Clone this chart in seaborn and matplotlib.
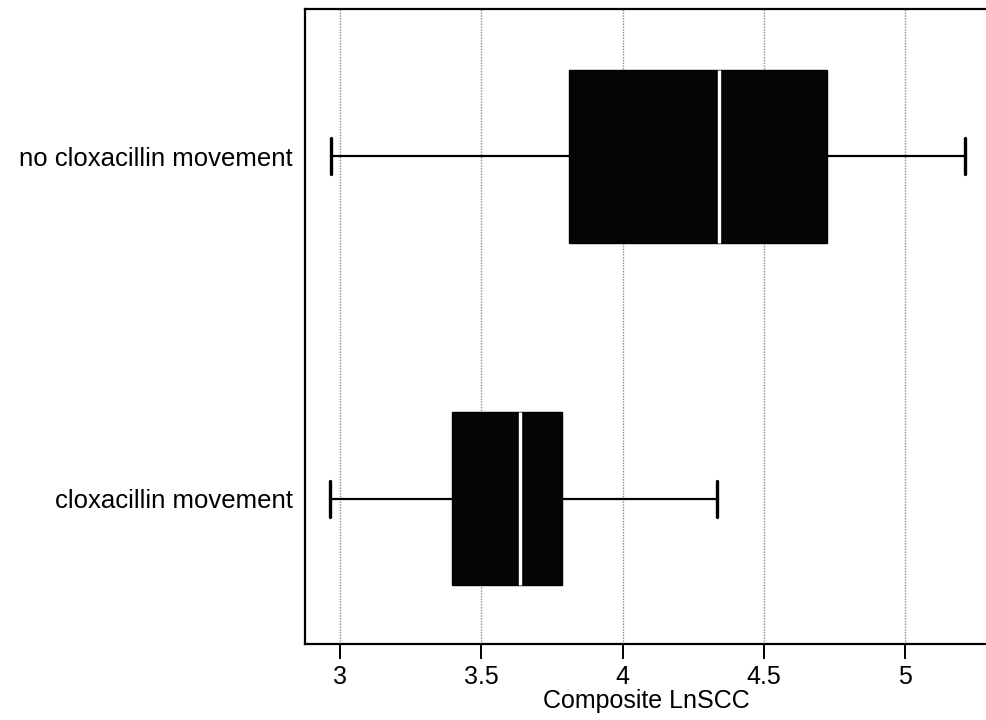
import numpy as np
import pandas as pd
import seaborn as sns
import matplotlib.pyplot as plt

# Five-number summaries (min, Q1, median, Q3, max) of composite LnSCC per group
groups = ["no cloxacillin movement", "cloxacillin movement"]
no_movement = [2.968, 3.810, 4.342, 4.725, 5.212]
movement = [2.965, 3.398, 3.637, 3.787, 4.336]

x_ticks = [3, 3.5, 4, 4.5, 5]
x_tick_labels = ["3", "3.5", "4", "4.5", "5"]
x_label = "Composite LnSCC"

df = pd.DataFrame({
    "group": [groups[0]] * len(no_movement) + [groups[1]] * len(movement),
    "lnscc": no_movement + movement,
})

sns.set_theme(style="white")
plt.rcParams["font.family"] = ["Liberation Sans", "DejaVu Sans"]
plt.rcParams["text.color"] = "black"
plt.rcParams["axes.labelcolor"] = "black"
plt.rcParams["xtick.color"] = "black"
plt.rcParams["ytick.color"] = "black"

fig = plt.figure(figsize=(9.87, 7.2), dpi=100)
ax = fig.add_axes([305 / 987, 1 - 644 / 720, 1 - 305 / 987, (644 - 9) / 720])

# dotted vertical grid behind the boxes
for t in x_ticks:
    ax.axvline(t, color="#8c8c8c", lw=1.0, ls=(0, (1, 1)), zorder=0)

sns.boxplot(
    data=df, x="lnscc", y="group", order=groups, ax=ax,
    whis=(0, 100), width=0.506, color="black", linecolor="black",
    linewidth=1.6, capwidths=0.105,
    boxprops=dict(facecolor="#050505", edgecolor="black", linewidth=1.0, zorder=2),
    medianprops=dict(color="white", linewidth=2.4, zorder=3),
    whiskerprops=dict(color="black", linewidth=1.6),
    capprops=dict(color="black", linewidth=2.4),
)

ax.set_xlim(2.876, 5.290)
ax.set_ylim(1.424, -0.430)
ax.set_xticks(x_ticks)
ax.set_xticklabels(x_tick_labels)
ax.set_xlabel(x_label, fontsize=18, labelpad=0, color="black")
ax.set_ylabel("")

ax.tick_params(axis="x", direction="out", length=11, width=1.4, color="black",
               labelcolor="black", labelsize=18, pad=4, bottom=True)
ax.tick_params(axis="y", length=0, labelsize=18.5, pad=9, left=False,
               labelcolor="black")

for side in ("left", "bottom", "top"):
    ax.spines[side].set_visible(True)
    ax.spines[side].set_color("black")
    ax.spines[side].set_linewidth(1.6)
ax.spines["right"].set_visible(False)
ax.grid(False)

fig.savefig("out.png", dpi=100, facecolor="white")
